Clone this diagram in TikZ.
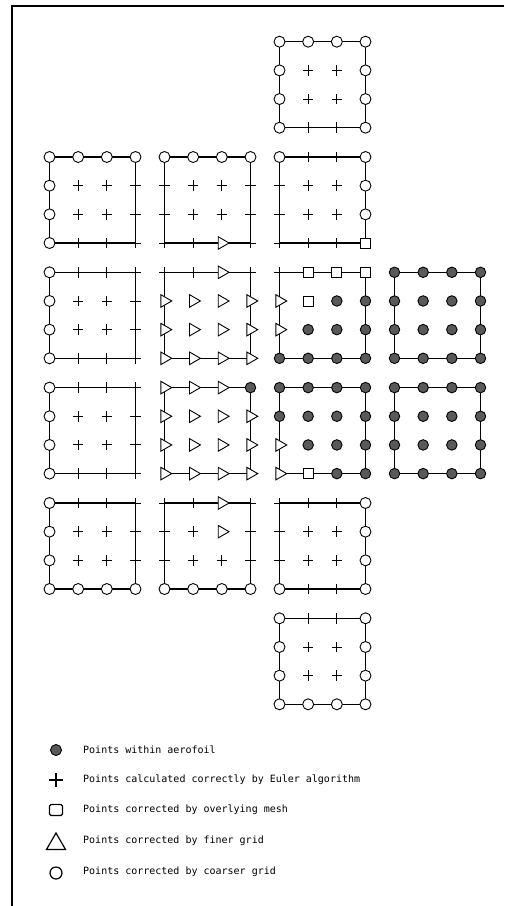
\documentclass[tikz,border=0pt]{standalone}
\usepackage{fontspec}
\setmonofont{DejaVu Sans Mono}
\usetikzlibrary{shapes.geometric,shapes.misc}
\tikzset{
 edge/.style={line width=1.1pt},
 frameline/.style={line width=1.8pt},
 symO/.style={circle,draw,fill=white,line width=0.9pt,inner sep=0pt,minimum size=11pt},
 symF/.style={circle,draw,fill=black!65,line width=0.9pt,inner sep=0pt,minimum size=10.5pt},
 symS/.style={rectangle,draw,fill=white,line width=0.9pt,inner sep=0pt,minimum size=10pt},
 symT/.style={regular polygon,regular polygon sides=3,rotate=-90,draw,fill=white,line width=0.9pt,inner sep=0pt,minimum size=14.5pt},
 symP/.style={cross out,draw,rotate=45,line width=0.9pt,inner sep=0pt,minimum size=6.5pt},
 legtext/.style={anchor=west,font=\ttfamily\fontsize{10}{12}\selectfont,inner sep=0pt}
}
\newcommand\gsq[4]{%
 \draw[edge] (#2,#3) rectangle ++(86,86);
 \foreach \s [count=\k from 0] in {#4} {
   \pgfmathtruncatemacro\ci{mod(\k,4)}
   \pgfmathtruncatemacro\rj{div(\k,4)}
   \node[style/.expanded=sym\s] (#1\k) at ({#2+\ci*28.667},{#3+\rj*28.667}) {};
 }}
\begin{document}
\begin{tikzpicture}[x=1pt,y=-1pt]
\useasboundingbox (0,0) rectangle (504,906);
\coordinate (fa) at (12,6);
\coordinate (fb) at (504,6);
\coordinate (fc) at (12,906);
\draw[frameline] (fb) -- (fa) -- (fc);
\gsq{a}{279.5}{41.7}{O,O,O,O, O,P,P,O, O,P,P,O, O,P,P,O}
\gsq{b}{49.5}{157}{O,O,O,O, O,P,P,P, O,P,P,P, O,P,P,P}
\gsq{c}{164.5}{157}{O,O,O,O, P,P,P,P, P,P,P,P, P,P,T,P}
\gsq{d}{279.5}{157}{O,P,P,O, P,P,P,O, P,P,P,O, P,P,P,S}
\gsq{e}{49.5}{272.3}{O,P,P,P, O,P,P,P, O,P,P,P, O,P,P,P}
\gsq{f}{164.5}{272.3}{P,P,T,P, T,T,T,T, T,T,T,T, T,T,T,T}
\gsq{g}{279.5}{272.3}{P,S,S,S, T,S,F,F, T,F,F,F, F,F,F,F}
\gsq{h}{394.5}{272.3}{F,F,F,F, F,F,F,F, F,F,F,F, F,F,F,F}
\gsq{i}{49.5}{387.6}{O,P,P,P, O,P,P,P, O,P,P,P, O,P,P,P}
\gsq{j}{164.5}{387.6}{T,T,T,F, T,T,T,T, T,T,T,T, T,T,T,T}
\gsq{k}{279.5}{387.6}{F,F,F,F, F,F,F,F, T,F,F,F, T,S,F,F}
\gsq{l}{394.5}{387.6}{F,F,F,F, F,F,F,F, F,F,F,F, F,F,F,F}
\gsq{m}{49.5}{503}{O,P,P,P, O,P,P,P, O,P,P,P, O,O,O,O}
\gsq{n}{164.5}{503}{P,P,T,P, P,P,T,P, P,P,P,P, O,O,O,O}
\gsq{o}{279.5}{503}{P,P,P,O, P,P,P,O, P,P,P,O, O,P,P,O}
\gsq{q}{279.5}{618.3}{O,P,P,O, O,P,P,O, O,P,P,O, O,O,O,O}
% legend
\node[symF,minimum size=11pt] (l1) at (56,750) {};
\node[symP,minimum size=8.5pt,line width=1.1pt] (l2) at (56,780) {};
\node[symS,minimum width=13pt,minimum height=11pt,rounded corners=1.5pt,line width=1.2pt] (l3) at (56,810) {};
\node[regular polygon,regular polygon sides=3,draw,line width=1.2pt,inner sep=0pt,minimum size=22pt] (l4) at (56,844) {};
\node[symO,minimum size=12pt,line width=1.2pt] (l5) at (56,873) {};
\node[legtext] (t1) at (83,750) {Points within aerofoil};
\node[legtext] (t2) at (83,780) {Points calculated correctly by Euler algorithm};
\node[legtext] (t3) at (83,810) {Points corrected by overlying mesh};
\node[legtext] (t4) at (83,841) {Points corrected by finer grid};
\node[legtext] (t5) at (83,872) {Points corrected by coarser grid};
\end{tikzpicture}
\end{document}
